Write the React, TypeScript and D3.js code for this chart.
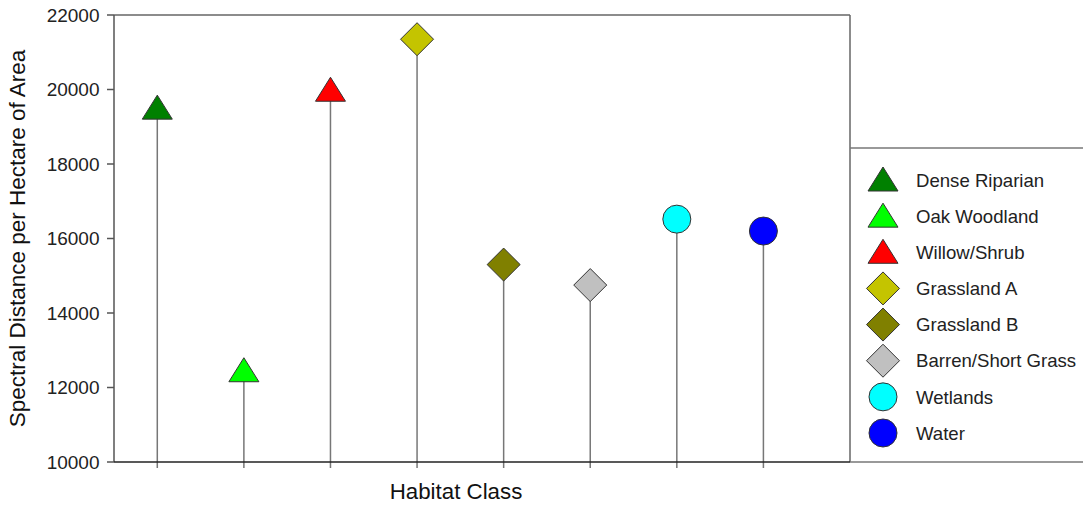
import React from "react";
import * as d3 from "d3";

const categories = [
  "Dense Riparian",
  "Oak Woodland",
  "Willow/Shrub",
  "Grassland A",
  "Grassland B",
  "Barren/Short Grass",
  "Wetlands",
  "Water",
];
const values = [19500, 12450, 19980, 21350, 15300, 14750, 16520, 16200];
const shapes = ["triangle", "triangle", "triangle", "diamond", "diamond", "diamond", "circle", "circle"];
const colors = ["#008000", "#00ff00", "#ff0000", "#c4c400", "#808000", "#c0c0c0", "#00ffff", "#0000ff"];
const yTicks = [10000, 12000, 14000, 16000, 18000, 20000, 22000];

const W = 1083;
const H = 506;
const plot = { left: 114, right: 850, top: 15, bottom: 462 };
const legendBox = { left: 850, top: 148, bottom: 462 };
const FONT = "'Liberation Sans', Arial, sans-serif";

function Marker({ shape, color, cx, cy }: { shape: string; color: string; cx: number; cy: number }) {
  const stroke = "#333";
  if (shape === "triangle") {
    const w = 15, hTop = 13, hBot = 11;
    const pts = [
      [cx, cy - hTop],
      [cx + w, cy + hBot],
      [cx - w, cy + hBot],
    ];
    return <polygon points={pts.map((p) => p.join(",")).join(" ")} fill={color} stroke={stroke} strokeWidth={1} />;
  }
  if (shape === "diamond") {
    const r = 16.5;
    const pts = [
      [cx, cy - r],
      [cx + r, cy],
      [cx, cy + r],
      [cx - r, cy],
    ];
    return <polygon points={pts.map((p) => p.join(",")).join(" ")} fill={color} stroke={stroke} strokeWidth={1} />;
  }
  return <circle cx={cx} cy={cy} r={14} fill={color} stroke={stroke} strokeWidth={1} />;
}

export default function App() {
  const x = d3.scaleLinear().domain([0.5, 9]).range([plot.left, plot.right]);
  const y = d3.scaleLinear().domain([10000, 22000]).range([plot.bottom, plot.top]);
  const legendY = d3.scaleLinear().domain([0, 7]).range([180, 433]);

  return (
    <svg width={W} height={H} style={{ position: "absolute", left: 0, top: 0, background: "#fff" }} fontFamily={FONT}>
      {/* stems */}
      {values.map((v, i) => (
        <line key={"s" + i} x1={x(i + 1)} x2={x(i + 1)} y1={y(v)} y2={plot.bottom + 6} stroke="#777" strokeWidth={1.5} />
      ))}
      {/* frame */}
      <line x1={plot.left} x2={plot.right} y1={plot.top} y2={plot.top} stroke="#666" strokeWidth={1.5} />
      <line x1={plot.right} x2={plot.right} y1={plot.top} y2={plot.bottom} stroke="#666" strokeWidth={1.5} />
      <line x1={plot.left} x2={plot.left} y1={plot.top} y2={plot.bottom} stroke="#555" strokeWidth={1.5} />
      <line x1={plot.left} x2={plot.right} y1={plot.bottom} y2={plot.bottom} stroke="#222" strokeWidth={1.5} />
      {/* y ticks */}
      {yTicks.map((t) => (
        <g key={t}>
          <line x1={plot.left - 7} x2={plot.left} y1={y(t)} y2={y(t)} stroke="#555" strokeWidth={1.5} />
          <text x={99.5} y={y(t)} dy="0.36em" textAnchor="end" fontSize={19} fill="#222">
            {t}
          </text>
        </g>
      ))}
      {/* markers */}
      {values.map((v, i) => (
        <Marker key={"m" + i} shape={shapes[i]} color={colors[i]} cx={x(i + 1)} cy={y(v)} />
      ))}
      {/* axis titles */}
      <text x={456} y={499} textAnchor="middle" fontSize={22.3} fill="#111">
        Habitat Class
      </text>
      <text
        transform={`translate(25, ${(plot.top + plot.bottom) / 2}) rotate(-90)`}
        textAnchor="middle"
        fontSize={22.5}
        fill="#111"
      >
        Spectral Distance per Hectare of Area
      </text>
      {/* legend */}
      <line x1={legendBox.left} x2={W} y1={legendBox.top} y2={legendBox.top} stroke="#777" strokeWidth={1.5} />
      <line x1={legendBox.left} x2={W} y1={legendBox.bottom} y2={legendBox.bottom} stroke="#777" strokeWidth={1.5} />
      {categories.map((c, i) => (
        <g key={"l" + i}>
          <Marker shape={shapes[i]} color={colors[i]} cx={883} cy={legendY(i)} />
          <text x={916} y={legendY(i)} dy="0.36em" fontSize={18.6} fill="#222">
            {c}
          </text>
        </g>
      ))}
    </svg>
  );
}
